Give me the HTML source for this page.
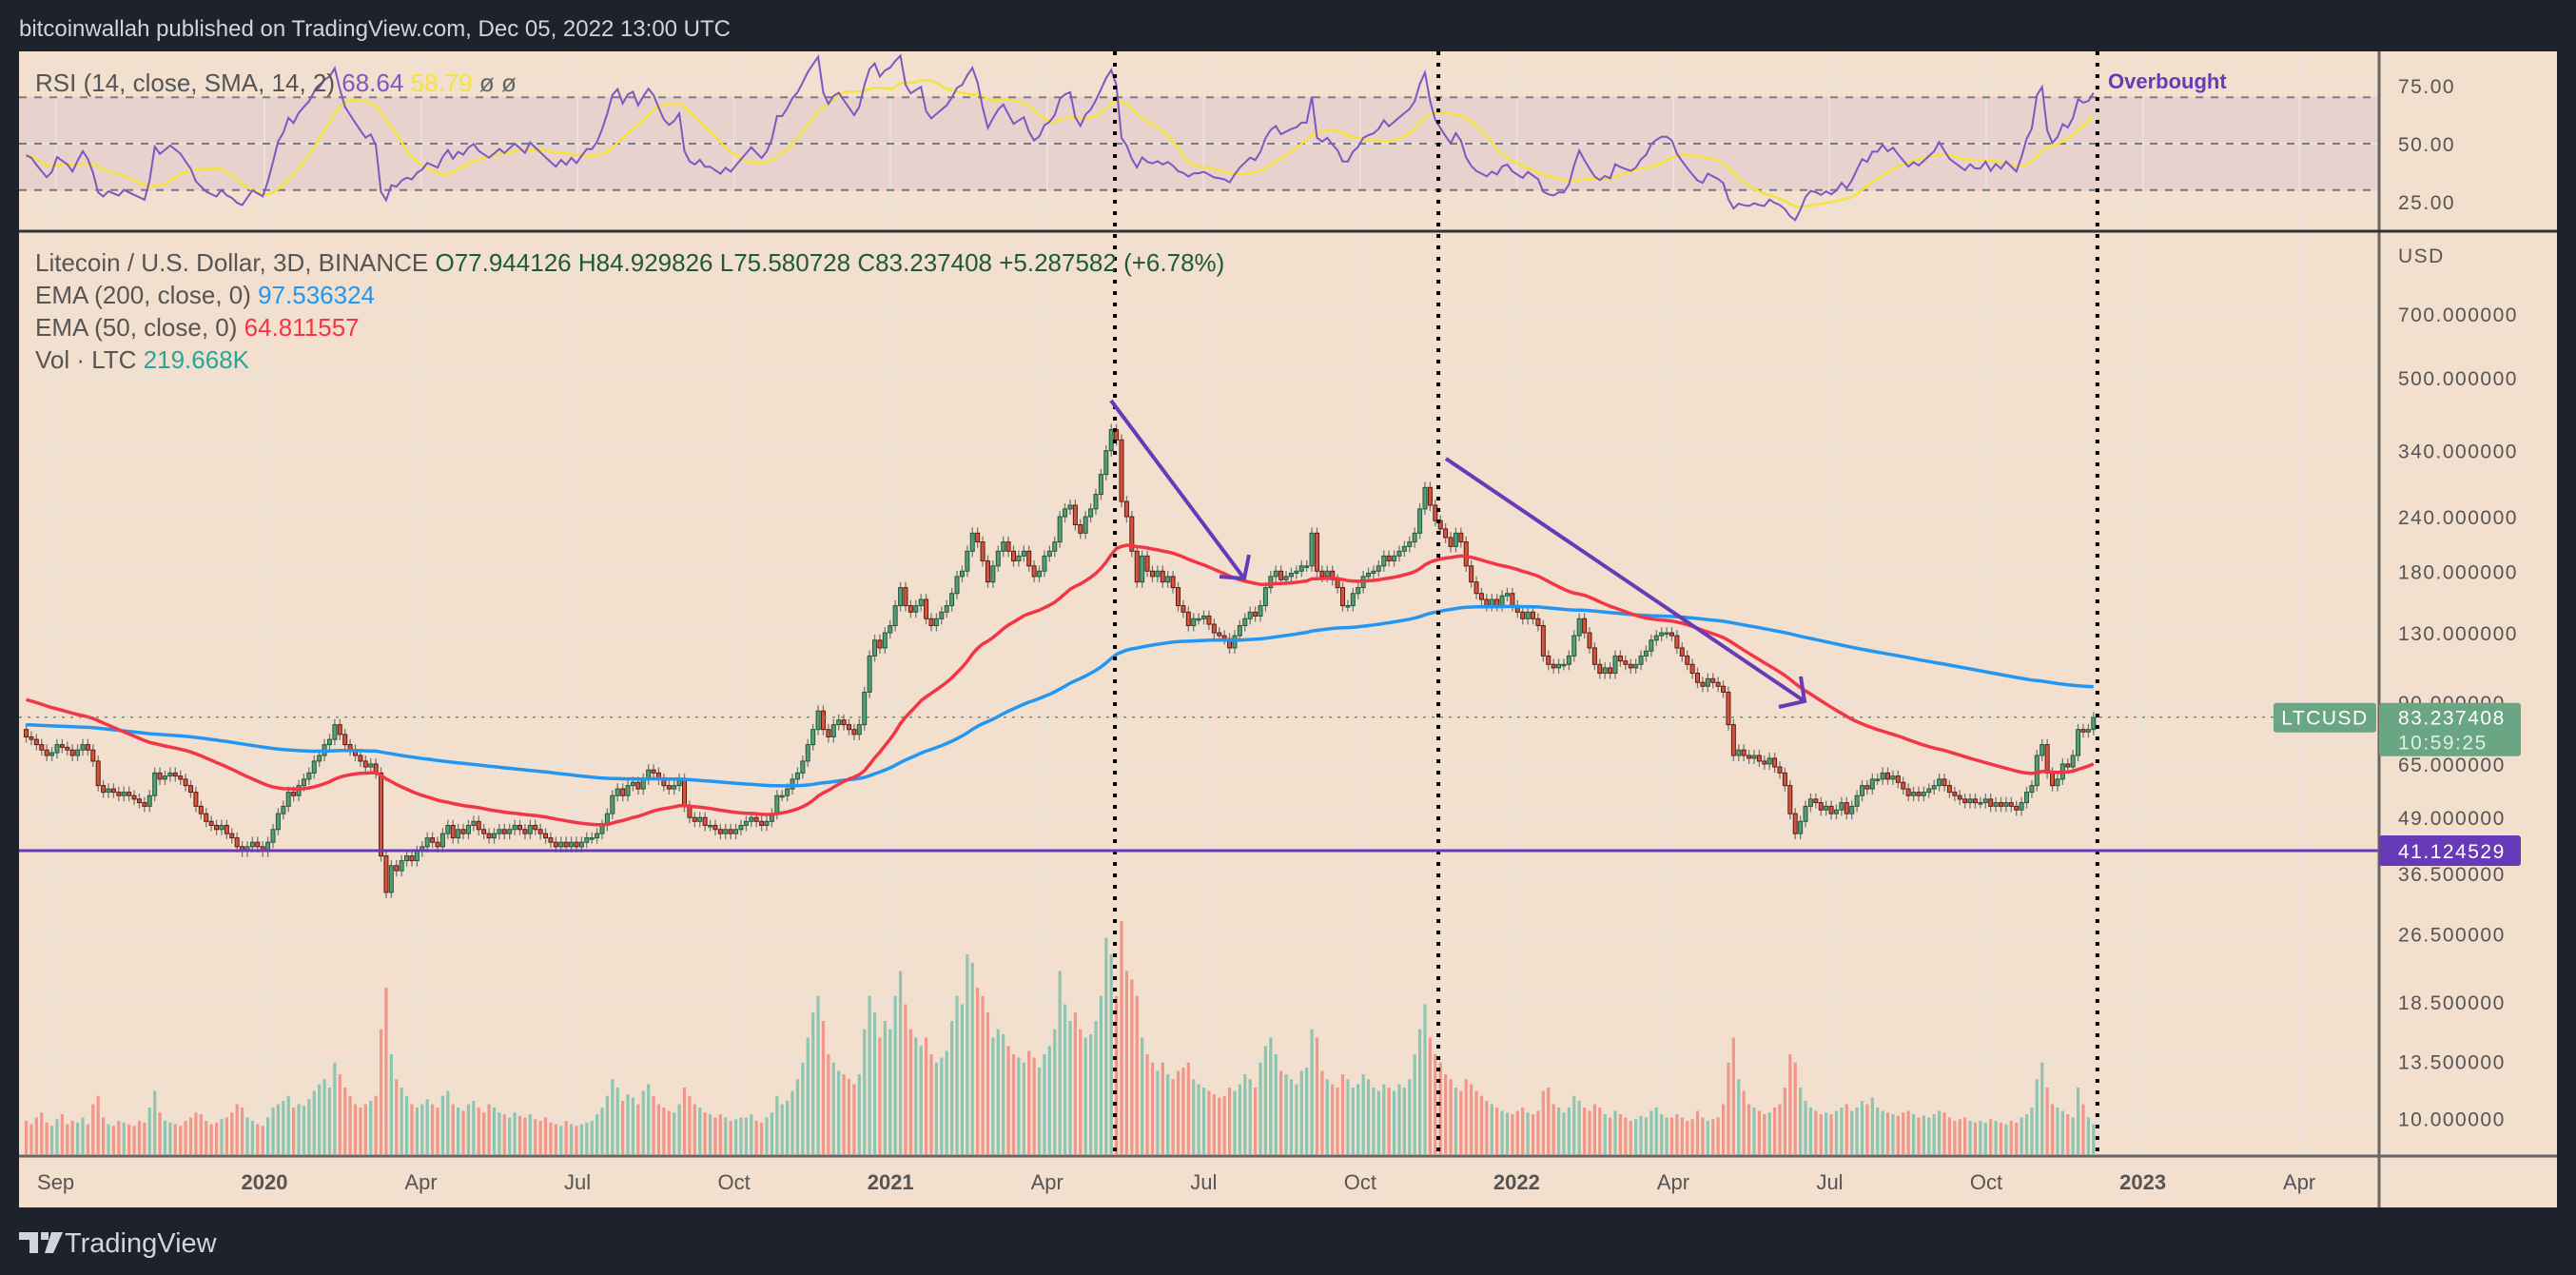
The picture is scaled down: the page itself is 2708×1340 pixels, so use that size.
<!DOCTYPE html>
<html><head><meta charset="utf-8">
<style>
html,body{margin:0;padding:0;background:#1e222d;}
svg{display:block;font-family:"Liberation Sans",sans-serif;}
</style></head>
<body>
<svg id="chart" width="2708" height="1340" viewBox="0 0 2708 1340" xmlns="http://www.w3.org/2000/svg">
<rect x="0" y="0" width="2708" height="1340" fill="#1e222d"/>
<text x="20" y="38" font-size="24" fill="#d1d4dc">bitcoinwallah published on TradingView.com, Dec 05, 2022 13:00 UTC</text>
<rect x="20" y="54" width="2668" height="1215" fill="#f2dfcd"/>
<rect x="20" y="102" width="2481" height="98" fill="#e7d2cd"/>
<g id="grid"></g>
<g id="rsiLayer"></g>
<g id="volLayer"></g>
<g id="candleLayer"></g>
<g id="emaLayer"></g>
<g id="overlay"></g>
<g id="axes"></g>
<g font-size="26">
<text x="37" y="96" fill="#555">RSI (14, close, SMA, 14, 2) <tspan fill="#7e57c2">68.64</tspan> <tspan fill="#f5e33b">58.79</tspan> <tspan fill="#666">ø ø</tspan></text>
<text x="37" y="285" fill="#555">Litecoin / U.S. Dollar, 3D, BINANCE <tspan fill="#1e5a3a">O77.944126  H84.929826  L75.580728  C83.237408  +5.287582 (+6.78%)</tspan></text>
<text x="37" y="319" fill="#555">EMA (200, close, 0) <tspan fill="#2196f3">97.536324</tspan></text>
<text x="37" y="353" fill="#555">EMA (50, close, 0) <tspan fill="#f23645">64.811557</tspan></text>
<text x="37" y="387" fill="#555">Vol · LTC <tspan fill="#26a69a">219.668K</tspan></text>
</g>
<g fill="#d1d4dc">
<path d="M20 1295h20v22h-9v-14h-11z M43 1295h8v8h-8z M54 1295h12l-10 22h-9z"/>
<text x="68" y="1316" font-size="29">TradingView</text>
</g>
</svg>
<script>
const closes = [
75,74,72,70,68,69,72,71,70,68,
70,72,70,66,58,56,57,56,55,56,
55,54,53,52,55,62,60,61,62,61,
60,58,56,52,50,48,47,46,47,45,
44,42,41,42,43,42,41,43,46,50,
52,56,55,58,60,62,66,68,72,74,
80,76,72,70,68,66,64,65,62,40,
33,38,37,39,40,39,41,42,44,43,
42,45,47,44,46,45,47,48,46,45,
44,45,46,45,46,47,46,45,47,46,
45,44,43,42,43,42,43,42,43,44,
44,45,47,50,55,57,55,58,59,57,
60,63,62,60,58,57,58,60,52,49,
48,49,47,47,46,45,46,45,46,47,
48,49,48,47,48,50,55,55,57,60,
62,66,72,78,86,78,75,80,82,80,
78,76,80,95,115,125,120,130,135,150,
165,150,145,150,155,140,135,140,145,150,
160,175,180,200,220,210,190,170,185,200,
210,200,190,195,200,185,175,180,195,200,
210,240,250,255,230,220,240,250,270,300,
340,380,360,260,240,200,170,195,180,175,
180,170,175,165,150,145,135,140,140,142,
136,130,128,126,120,128,135,140,145,142,
150,165,175,180,172,175,178,180,185,185,
220,180,175,180,172,165,150,150,160,165,
175,178,180,185,195,190,195,200,205,210,
220,250,280,255,235,225,215,205,220,210,
185,170,160,155,150,155,150,158,160,150,
145,140,145,140,135,115,110,108,110,110,
115,128,140,130,120,110,105,108,105,115,
112,110,108,110,115,118,125,128,130,130,
128,120,115,110,105,100,98,102,100,98,
95,80,68,70,68,67,68,66,65,67,
64,62,58,50,45,48,52,54,53,51,
52,50,51,53,50,52,55,58,57,60,
60,62,60,61,59,57,55,56,55,56,
57,58,60,58,56,55,54,53,54,53,
53,54,52,53,52,53,52,51,53,56,
58,68,72,62,58,60,65,64,68,78,
77,78,83];
const volumes = [
20,18,22,25,19,17,21,24,18,20,
19,22,18,30,35,22,18,17,20,19,
18,17,20,19,28,38,25,20,19,18,
17,20,22,25,24,20,18,19,21,22,
25,30,28,22,20,18,17,22,28,30,
32,35,28,30,29,33,38,42,45,40,
55,48,40,35,30,28,30,32,35,75,
100,60,45,40,35,30,28,30,33,30,
28,35,38,30,28,26,30,32,28,25,
30,28,25,24,22,25,23,22,24,21,
20,22,19,18,17,20,18,17,18,19,
20,24,28,35,45,40,32,36,34,30,
38,42,35,30,28,26,25,30,40,35,
30,28,25,24,22,24,22,20,21,22,
22,24,20,19,22,25,35,30,32,38,
45,55,70,85,95,80,60,55,50,48,
45,42,48,75,95,85,70,80,75,95,
110,90,75,70,65,70,60,55,58,62,
80,95,90,120,115,100,95,85,70,75,
72,65,60,58,55,62,58,52,60,65,
75,110,90,80,85,75,70,72,80,95,
130,120,95,140,110,105,95,70,60,55,
50,55,48,45,50,52,55,45,42,40,
38,36,34,35,40,38,42,48,45,40,
55,65,70,60,50,48,45,42,50,52,
75,70,50,45,42,40,48,45,40,42,
48,45,40,38,42,40,38,42,40,45,
60,75,90,70,60,55,48,45,40,38,
45,42,38,35,32,30,28,26,25,24,
26,28,25,24,26,38,40,30,28,25,
28,35,32,28,26,30,28,24,22,26,
24,22,20,21,23,22,26,28,24,22,
22,24,22,20,21,26,22,20,21,22,
30,55,70,45,38,30,28,26,24,25,
28,30,40,60,55,40,32,28,26,24,
25,24,26,28,30,26,28,32,30,34,
28,26,25,24,23,25,26,24,22,23,
22,24,26,25,22,20,21,22,20,19,
20,19,21,20,19,18,20,19,22,24,
28,45,55,40,30,28,26,24,22,40,
30,22,18];
const priceTicks = [700,500,340,240,180,130,90,65,49,36.5,26.5,18.5,13.5,10];
const rsiTicks = [75,50,25];
const timeLabels = ["Sep","2020","Apr","Jul","Oct","2021","Apr","Jul","Oct","2022","Apr","Jul","Oct","2023","Apr"];
const timeLabelMonths = [-4,0,3,6,9,12,15,18,21,24,27,30,33,36,39];
const markerMonths = [16.3,22.5,35.13];
const supportPrice = 41.124529;
const lastPrice = 83.237408;

const NS="http://www.w3.org/2000/svg";
const START=Date.UTC(2019,7,15), JAN20=Date.UTC(2020,0,1), DAY=86400000;
function xMonth(m){return 278+m*54.85;}
function xBar(i){return xMonth((START+i*3*DAY-JAN20)/DAY/30.4375);}
function yPrice(p){return 330+(Math.log(700)-Math.log(p))*199;}
function yRsi(r){return 151-(r-50)*2.44;}
function yVol(v){return 1213-v*1.75;}
function mk(tag,attrs,parent){const e=document.createElementNS(NS,tag);for(const k in attrs)e.setAttribute(k,attrs[k]);parent.appendChild(e);return e;}
const grid=document.getElementById('grid'), axes=document.getElementById('axes');

priceTicks.forEach(p=>{const l=mk('line',{x1:20,x2:2501,y1:yPrice(p),y2:yPrice(p),stroke:'#e8e2dc','stroke-width':2},grid);

});
rsiTicks.forEach(r=>{const l=mk('line',{x1:20,x2:2501,y1:yRsi(r),y2:yRsi(r),stroke:'#e8e2dc','stroke-width':2},grid);

});
timeLabelMonths.forEach(m=>{const l=mk('line',{x1:xMonth(m),x2:xMonth(m),y1:54,y2:1215,stroke:'#e8e2dc','stroke-width':2},grid);

});
[70,50,30].forEach(r=>{const l=mk('line',{x1:20,x2:2501,y1:yRsi(r),y2:yRsi(r),stroke:'#787b86','stroke-width':2,'stroke-dasharray':'8 8'},grid);

});

const rsi=[]; let ag=1,al=1.2;
rsi[0]=45;
for(let i=1;i<closes.length;i++){const d=closes[i]-closes[i-1];const g=Math.max(d,0),lo=Math.max(-d,0);
 ag=(ag*13+g)/14;al=(al*13+lo)/14;rsi[i]=100-100/(1+ag/(al||1e-9));}
let rp='',sp='';
for(let i=0;i<closes.length;i++){rp+=(i===0?'M':'L')+xBar(i).toFixed(1)+' '+yRsi(rsi[i]).toFixed(1);
 let s=0,n=0;for(let k=Math.max(0,i-13);k<=i;k++){s+=rsi[k];n++;}s/=n;
 sp+=(i===0?'M':'L')+xBar(i).toFixed(1)+' '+yRsi(s).toFixed(1);}
const rl=document.getElementById('rsiLayer');
const sLine=mk('path',{d:sp,fill:'none',stroke:'#f5e33b','stroke-width':2.5},rl);


const rLine=mk('path',{d:rp,fill:'none',stroke:'#7e57c2','stroke-width':2},rl);



const vl=document.getElementById('volLayer'), cl=document.getElementById('candleLayer');
for(let i=0;i<closes.length;i++){
 const o=i===0?78:closes[i-1], c=closes[i], up=c>=o, x=xBar(i);
 const vb=mk('rect',{x:x-1.6,y:yVol(volumes[i]),width:3.2,height:1213-yVol(volumes[i]),fill:up?'#8cc6b3':'#f0968a'},vl);
 
 
 const hi=Math.max(o,c)*1.03, lo=Math.min(o,c)*0.97;
 const w=mk('line',{x1:x,x2:x,y1:yPrice(hi),y2:yPrice(lo),stroke:'#777','stroke-width':1.3},cl);
 
 
 const yt=yPrice(Math.max(o,c)), yb=yPrice(Math.min(o,c));
 const b=mk('rect',{x:x-2,y:yt,width:4,height:Math.max(yb-yt,1.5),fill:up?'#5a9a74':'#d4553f',stroke:up?'#1e5a3a':'#5c1a12','stroke-width':1},cl);
 
 
}

function ema(n,seed){const a=2/(n+1);let e=seed,out=[];closes.forEach(c=>{e=e+a*(c-e);out.push(e);});return out;}
const el=document.getElementById('emaLayer');
[[ema(200,80),'#2196f3','ema-200-line'],[ema(50,92),'#f23645','ema-50-line']].forEach(([arr,col,nm])=>{
 const d=arr.map((v,i)=>(i?'L':'M')+xBar(i).toFixed(1)+' '+yPrice(v).toFixed(1)).join('');
 const p=mk('path',{d:d,fill:'none',stroke:col,'stroke-width':3.5},el);
 
 
});

const ov=document.getElementById('overlay');
markerMonths.forEach(m=>{const l=mk('line',{x1:xMonth(m),x2:xMonth(m),y1:54,y2:1215,stroke:'#000','stroke-width':4,'stroke-dasharray':'4 8'},ov);

});
const sup=mk('line',{x1:20,x2:2501,y1:yPrice(supportPrice),y2:yPrice(supportPrice),stroke:'#673ab7','stroke-width':3},ov);


const cur=mk('line',{x1:20,x2:2501,y1:yPrice(lastPrice),y2:yPrice(lastPrice),stroke:'#5a9a74','stroke-width':1.5,'stroke-dasharray':'3 6'},ov);


const a1=mk('path',{d:'M1168 421L1308 608M1282 606L1308 608L1313 583',fill:'none',stroke:'#673ab7','stroke-width':4},ov);


const a2=mk('path',{d:'M1520 482L1897 737M1870 743L1897 737L1893 711',fill:'none',stroke:'#673ab7','stroke-width':4},ov);


const ob=mk('text',{x:2216,y:93,'font-size':22,'font-weight':'bold',fill:'#673ab7'},ov);
ob.textContent='Overbought';



const sepData=[[2501,54,2501,1269,'price-axis-border'],[20,243,2688,243,'pane-divider'],[20,1215,2688,1215,'time-axis-border']];
sepData.forEach(s=>{const l=mk('line',{x1:s[0],y1:s[1],x2:s[2],y2:s[3],stroke:s[4]==='pane-divider'?'#333':'#666','stroke-width':3},axes);

});
rsiTicks.forEach(r=>{const t=mk('text',{x:2521,y:yRsi(r)+8,'font-size':21,'letter-spacing':1.5,fill:'#555'},axes);t.textContent=r.toFixed(2);

});
const usd=mk('text',{x:2521,y:276,'font-size':21,'letter-spacing':1.5,fill:'#555'},axes);usd.textContent='USD';


priceTicks.forEach(p=>{const t=mk('text',{x:2521,y:yPrice(p)+8,'font-size':21,'letter-spacing':1.5,fill:'#555'},axes);t.textContent=p.toFixed(6);

});
timeLabels.forEach((lab,i)=>{const yr=/^\d{4}$/.test(lab);const t=mk('text',{x:xMonth(timeLabelMonths[i]),y:1250,'font-size':22,'text-anchor':'middle',fill:'#555','font-weight':yr?'bold':'normal'},axes);t.textContent=lab;

});
const yl=yPrice(lastPrice);
const bx1=mk('rect',{x:2390,y:yl-15,width:108,height:31,rx:3,fill:'#6aa584'},axes);


const bt1=mk('text',{x:2444,y:yl+8,'font-size':21,'letter-spacing':1.5,'text-anchor':'middle',fill:'#fff'},axes);bt1.textContent='LTCUSD';


const bx2=mk('rect',{x:2501,y:yl-15,width:149,height:56,rx:3,fill:'#6aa584'},axes);


const bt2=mk('text',{x:2521,y:yl+8,'font-size':21,'letter-spacing':1.5,fill:'#fff'},axes);bt2.textContent=lastPrice.toFixed(6);


const bt3=mk('text',{x:2521,y:yl+34,'font-size':21,'letter-spacing':1.5,fill:'#e0efe6'},axes);bt3.textContent='10:59:25';


const ys=yPrice(supportPrice);
const bx4=mk('rect',{x:2501,y:ys-16,width:149,height:32,rx:3,fill:'#673ab7'},axes);


const bt4=mk('text',{x:2521,y:ys+8,'font-size':21,'letter-spacing':1.5,fill:'#fff'},axes);bt4.textContent=supportPrice.toFixed(6);


</script>
</body></html>
